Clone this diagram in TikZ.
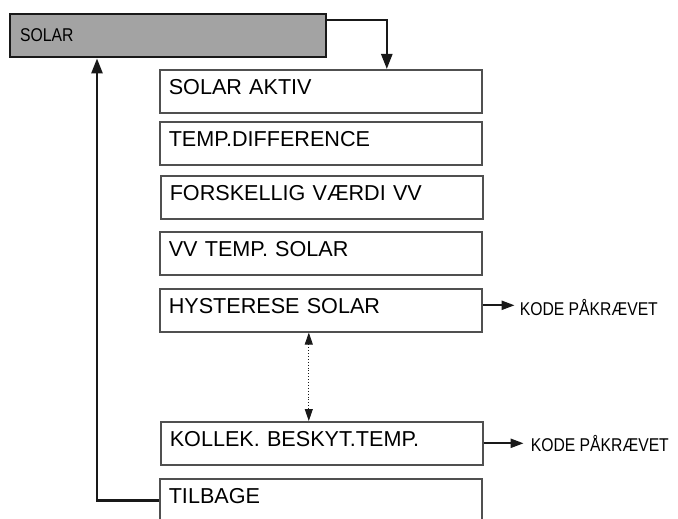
\documentclass[tikz,border=0pt]{standalone}
\usepackage{fontspec}
\setmainfont{Liberation Sans}
\usetikzlibrary{arrows.meta}
\definecolor{solargray}{HTML}{A3A3A3}
\definecolor{boxedge}{HTML}{505050}
\newcommand{\narrowtxt}[1]{\scalebox{0.85}[1]{#1}}
\tikzset{
  menubox/.style={draw=boxedge, line width=1.6pt, anchor=north west, inner ysep=0pt, inner xsep=9pt,
    text width=304pt, align=left, text height=25pt, text depth=18pt, font=\fontsize{21.6}{23}\selectfont},
  headbox/.style={draw=black!90, line width=2.4pt, fill=solargray, anchor=north west, inner ysep=0pt, inner xsep=10pt,
    text width=296pt, align=left, text height=27pt, text depth=16pt, font=\fontsize{18.5}{20}\selectfont},
  codetxt/.style={anchor=west, inner sep=0pt, font=\fontsize{18.5}{20}\selectfont},
  flow/.style={line width=2.4pt, black!90, -{Triangle[length=15pt,width=11pt]}},
  codearrow/.style={line width=2.2pt, black!90, -{Triangle[length=13pt,width=9pt]}},
  dotarrow/.style={line width=0.9pt, dotted, black!90, {Triangle[length=12pt,width=8pt]}-{Triangle[length=12pt,width=8pt]}}
}
\begin{document}
\begin{tikzpicture}[x=1pt,y=-1pt]
\useasboundingbox (0,0) rectangle (678,519);
\node[headbox] (solar) at (9,13) {\narrowtxt{SOLAR}};
\node[menubox] (aktiv) at (159,69) {SOLAR AKTIV};
\node[menubox] (tdiff) at (159,121) {TEMP.DIFFERENCE};
\node[menubox] (forsk) at (160,175) {FORSKELLIG VÆRDI VV};
\node[menubox] (vvtemp) at (159,231) {VV TEMP. SOLAR};
\node[menubox] (hyst) at (159,288) {HYSTERESE SOLAR};
\node[menubox] (kollek) at (160,421) {KOLLEK. BESKYT.TEMP.};
\node[menubox] (tilbage) at (159,478) {TILBAGE};
\node[codetxt] (kode1) at ([xshift=37pt,yshift=3pt]hyst.east) {\narrowtxt{KODE PÅKRÆVET}};
\node[codetxt] (kode2) at ([xshift=47pt]kollek.east) {\narrowtxt{KODE PÅKRÆVET}};
\draw[flow] ([yshift=-7pt]solar.north east) -| ([xshift=66pt]aktiv.north);
\draw[flow] (tilbage.west) -| ([xshift=88pt]solar.south west);
\draw[codearrow] ([yshift=5pt]hyst.east) -- ([xshift=-5pt,yshift=2pt]kode1.west);
\draw[codearrow] (kollek.east) -- ([xshift=-7pt]kode2.west);
\draw[dotarrow] ([xshift=-12pt]hyst.south) -- ([xshift=-13pt]kollek.north);
\end{tikzpicture}
\end{document}
